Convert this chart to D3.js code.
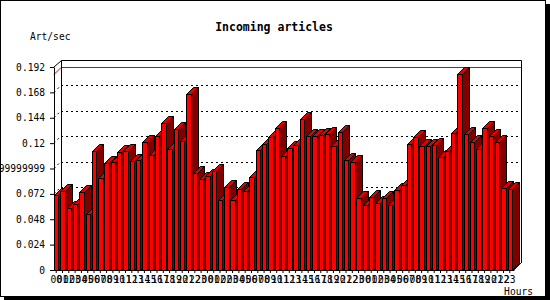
<!DOCTYPE html>
<html>
<head>
<meta charset="utf-8">
<script src="https://cdn.jsdelivr.net/npm/d3@7"></script>
<style>
  body { margin: 0; background: #fff; }
  svg { display: block; }
  text { font-family: "DejaVu Sans Mono", monospace; }
</style>
</head>
<body>
<div id="chart"></div>
<script>
// hour labels: 3 days, second day has a repeated 02 hour (25 bars)
const day = d3.range(24).map(h => String(h).padStart(2, "0"));
const hours = [...day, ...day.slice(0, 3), "02", ...day.slice(3), ...day];

// articles per second, one per hour
const artPerSec = [
  0.0709, 0.0747, 0.0583, 0.0621, 0.0734, 0.0526, 0.1126, 0.0867, 0.1009, 0.1021,
  0.1113, 0.1126, 0.1031, 0.1040, 0.1207, 0.1083, 0.1264, 0.1387, 0.1144, 0.1331,
  0.1220, 0.1665, 0.0914, 0.0861, 0.0889, 0.0939, 0.0662, 0.0782, 0.0662, 0.0766,
  0.0747, 0.0880, 0.1135, 0.1192, 0.1261, 0.1340, 0.1078, 0.1151, 0.1179, 0.1425,
  0.1264, 0.1264, 0.1274, 0.1283, 0.1170, 0.1302, 0.1037, 0.1021, 0.0678, 0.0612,
  0.0687, 0.0631, 0.0678, 0.0612, 0.0757, 0.0807, 0.1189, 0.1258, 0.1170, 0.1170,
  0.1179, 0.1066, 0.1126, 0.1296, 0.1854, 0.1283, 0.1207, 0.1141, 0.1340, 0.1264,
  0.1211, 0.0772, 0.0766
];

const yTicks = [0, 0.024, 0.048, 0.072, 0.096, 0.12, 0.144, 0.168, 0.192];
const yTickLabels = ["0", "0.024", "0.048", "0.072", "0.09599999999999999", "0.12", "0.144", "0.168", "0.192"];

const width = 550, height = 300;
const left = 54, base = 270, depth = 7;
const right = left + artPerSec.length * 6.3;
const px = v => Math.round(v) + 0.5; // snap to pixel grid

const svg = d3.select("#chart").append("svg")
  .attr("width", width)
  .attr("height", height);

// frame with shadow
svg.append("rect").attr("x", 0).attr("y", 0).attr("width", width).attr("height", height).attr("fill", "#fff");
svg.append("rect").attr("x", 0.5).attr("y", 0.5).attr("width", 545).attr("height", 296)
  .attr("fill", "none").attr("stroke", "#000");
svg.append("rect").attr("x", 546).attr("y", 4).attr("width", 4).attr("height", 296).attr("fill", "#000");
svg.append("rect").attr("x", 4).attr("y", 297).attr("width", 546).attr("height", 3).attr("fill", "#000");

const x = d3.scaleBand()
  .domain(d3.range(artPerSec.length))
  .range([left, right])
  .paddingInner(0.3)
  .paddingOuter(0.15)
  .align(0);

const y = d3.scaleLinear().domain([0, 0.192]).range([base, 67]);

// back wall grid (dotted)
const grid = svg.append("g").attr("stroke", "#000").attr("stroke-dasharray", "2,3").attr("fill", "none");
yTicks.slice(1, -1).forEach(t => {
  grid.append("line")
    .attr("x1", left + depth).attr("x2", right + depth)
    .attr("y1", px(y(t) - depth)).attr("y2", px(y(t) - depth));
  grid.append("line")
    .attr("x1", left).attr("y1", y(t))
    .attr("x2", left + depth).attr("y2", y(t) - depth);
});

// max value line
const maxV = d3.max(artPerSec);
svg.append("polyline")
  .attr("points", [[left, px(y(maxV))], [left + depth, px(y(maxV) - depth)], [right + depth, px(y(maxV) - depth)]].join(" "))
  .attr("fill", "none").attr("stroke", "#e00000");

// back frame
const topY = px(y(0.192) - depth);
svg.append("polyline")
  .attr("points", [[left, y(0.192)], [left + depth + 0.5, topY], [px(right + depth), topY], [px(right + depth), base - depth]].join(" "))
  .attr("fill", "none").attr("stroke", "#000");
svg.append("line")
  .attr("x1", left + depth + 0.5).attr("x2", left + depth + 0.5)
  .attr("y1", topY).attr("y2", base - depth)
  .attr("stroke", "#000");

// 3D bars
const bars = svg.append("g").attr("stroke", "#000").attr("stroke-width", 1).attr("stroke-linejoin", "miter");
artPerSec.forEach((v, i) => {
  const x0 = px(x(i)), x1 = px(x(i) + x.bandwidth()), yt = px(y(v)), yb = base + 0.5;
  const g = bars.append("g");
  g.append("polygon")
    .attr("points", [[x1, yt], [x1 + depth, yt - depth], [x1 + depth, yb - depth], [x1, yb]].join(" "))
    .attr("fill", "#800000");
  g.append("polygon")
    .attr("points", [[x0, yt], [x0 + depth, yt - depth], [x1 + depth, yt - depth], [x1, yt]].join(" "))
    .attr("fill", "#e00000");
  g.append("rect")
    .attr("x", x0).attr("y", yt)
    .attr("width", x1 - x0).attr("height", yb - yt)
    .attr("fill", "#ff0000");
});

// axes
const yAxis = svg.append("g")
  .attr("transform", `translate(${left},0)`)
  .call(d3.axisLeft(y).tickValues(yTicks).tickFormat((d, i) => yTickLabels[i]).tickSize(4).tickPadding(5).tickSizeOuter(0));
yAxis.selectAll("text").attr("font-family", "DejaVu Sans Mono").attr("font-size", 9.6).attr("fill", "#000");
yAxis.selectAll("line,path").attr("stroke", "#000");

const xAxis = svg.append("g")
  .attr("transform", `translate(0,${base})`)
  .call(d3.axisBottom(x).tickFormat(i => hours[i]).tickSize(3).tickPadding(3).tickSizeOuter(0));
xAxis.selectAll("text").attr("font-family", "DejaVu Sans Mono").attr("font-size", 9.6).attr("fill", "#000");
xAxis.selectAll("line,path").attr("stroke", "#000");

// floor edge at the right
svg.append("line")
  .attr("x1", right).attr("y1", base)
  .attr("x2", right + depth).attr("y2", base - depth)
  .attr("stroke", "#000");

// titles
svg.append("text").attr("x", 274).attr("y", 31)
  .attr("text-anchor", "middle").attr("font-weight", "bold").attr("font-size", 11.5)
  .text("Incoming articles");
svg.append("text").attr("x", 30).attr("y", 40).attr("font-size", 9.6).text("Art/sec");
svg.append("text").attr("x", 533).attr("y", 295).attr("text-anchor", "end").attr("font-size", 9.6).text("Hours");
</script>
</body>
</html>
